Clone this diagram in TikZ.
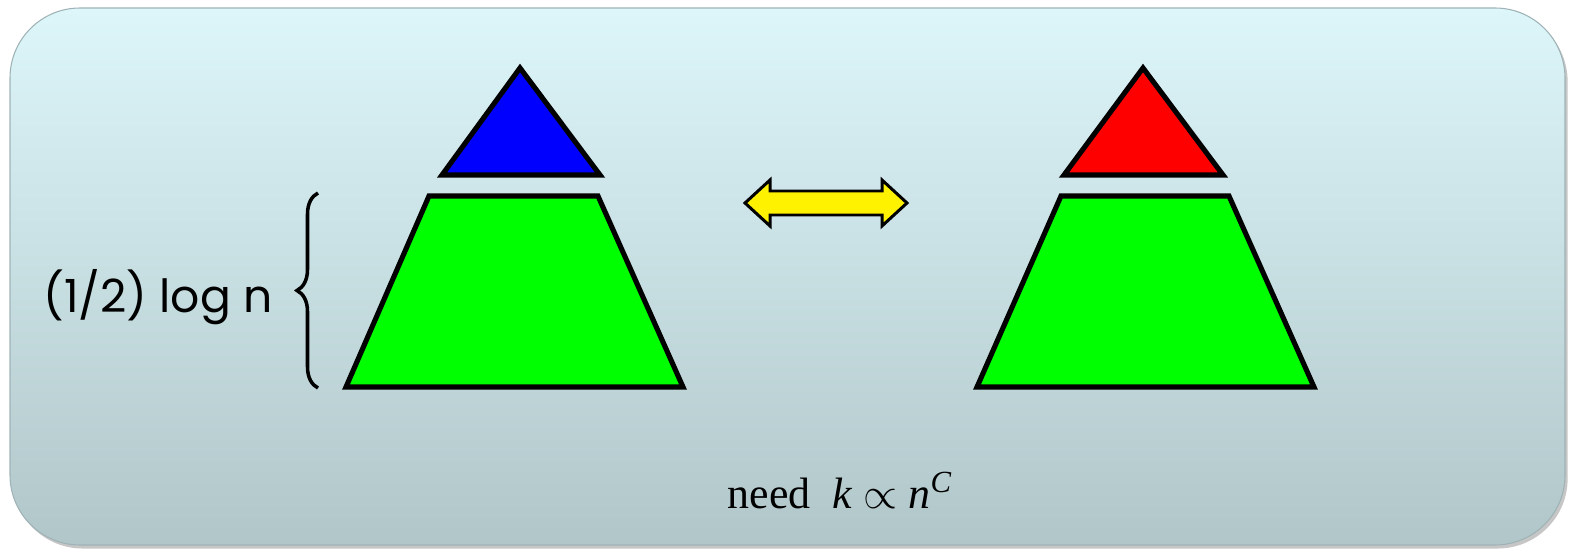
\documentclass[tikz,border=0pt]{standalone}
\usepackage{fontspec}
\setmainfont{Liberation Serif}
\newfontfamily\handfont{Poppins}
\usepackage{tikz}
\usetikzlibrary{decorations.pathreplacing, shadows, positioning}
\definecolor{paneltop}{HTML}{DDF6FA}
\definecolor{panelbot}{HTML}{B1C6C9}
\definecolor{panelrim}{HTML}{9FB3B6}

\begin{document}
\begin{tikzpicture}[x=0.02cm, y=0.02cm,
    panel/.style={top color=paneltop, bottom color=panelbot, draw=panelrim, line width=0.6pt,
                  rounded corners=1.4cm,
                  drop shadow={shadow xshift=1.5pt, shadow yshift=-2pt, opacity=0.45}},
    piece/.style={draw=black, line width=2.9pt, line join=miter},
    brc/.style={decorate, decoration={brace, amplitude=0.42cm}, line width=2pt},
    dblarr/.style={draw=black, fill=yellow, line width=1.7pt, line join=miter},
]
    \useasboundingbox (0,0) rectangle (1582,555);
    \path[panel] (10,10) rectangle (1565,547);

    % left pyramid
    \draw[piece, fill=blue] (520,487) -- (442,380) -- (600,380) -- cycle;
    \draw[piece, fill=green] (429,359) -- (598,359) -- (683,168) -- (346,168) -- cycle;

    % right pyramid
    \draw[piece, fill=red] (1143,487) -- (1064,380) -- (1223,380) -- cycle;
    \draw[piece, fill=green] (1061,359) -- (1229,359) -- (1314,168) -- (977,168) -- cycle;

    % height of the lower part
    \coordinate (bb) at (318,167);
    \coordinate (bt) at (318,362);
    \draw[brc] (bb) -- (bt);
    \node[font=\handfont\fontsize{26}{30}\selectfont] (hgt) at (158,258) {(1/2) log n};

    % swap arrow
    \draw[dblarr] (745,352) -- (770,375) -- (770,364) -- (882,364) -- (882,375)
        -- (907,352) -- (882,329) -- (882,340) -- (770,340) -- (770,329) -- cycle;

    \node[anchor=base, font=\fontsize{25}{30}\selectfont] (need) at (840,47)
        {need~ \textit{k} $\propto$ \textit{n}\textsuperscript{\textit{C}}};
\end{tikzpicture}
\end{document}
